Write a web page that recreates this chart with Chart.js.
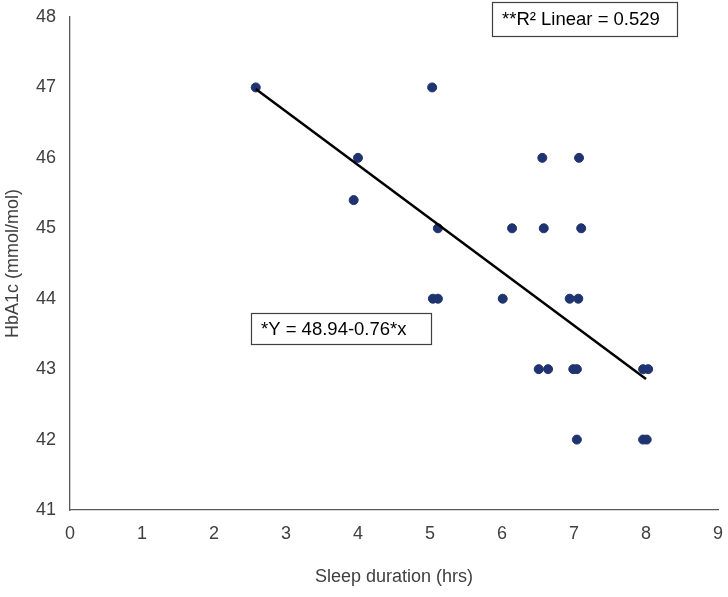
<!DOCTYPE html>
<html>
<head>
<meta charset="utf-8">
<script src="https://cdn.jsdelivr.net/npm/chart.js@4.4.1/dist/chart.umd.min.js"></script>
<style>
  html, body { margin: 0; padding: 0; background: #fff; }
  #wrap { width: 728px; height: 597px; }
</style>
</head>
<body>
<div id="wrap"><canvas id="chart" width="728" height="597"></canvas></div>
<script>
// sleep duration (hrs) and HbA1c (mmol/mol)
const sleepHours = [2.58, 5.03, 4.0, 6.56, 7.07, 3.94, 5.11, 6.14, 6.58, 7.1,
  5.04, 5.11, 6.01, 6.94, 7.06, 6.51, 6.64, 6.99, 7.04, 7.96, 8.03, 7.04, 7.96, 8.01];
const hba1c = [47, 47, 46, 46, 46, 45.4, 45, 45, 45, 45,
  44, 44, 44, 44, 44, 43, 43, 43, 43, 43, 43, 42, 42, 42];

// fitted line: Y = 48.94 - 0.76x, drawn over the data range
const intercept = 48.94;
const slope = -0.76;
const fitRange = [2.58, 8.0];

const xTicks = [0, 1, 2, 3, 4, 5, 6, 7, 8, 9];
const yTicks = [41, 42, 43, 44, 45, 46, 47, 48];

const eqLabel = '*Y = 48.94-0.76*x';
const r2Label = '**R\u00B2 Linear = 0.529';

const textColor = '#404040';
const axisColor = '#595959';
const font = 'Liberation Sans, Arial, sans-serif';

// text boxes drawn on top of the plot
const labelBoxes = {
  id: 'labelBoxes',
  afterDraw(chart) {
    const ctx = chart.ctx;
    const boxes = [
      { text: r2Label, x: 492, y: 2, w: 185, h: 34 },
      { text: eqLabel, x: 251, y: 313, w: 180, h: 31 }
    ];
    ctx.save();
    boxes.forEach(b => {
      ctx.fillStyle = '#fff';
      ctx.fillRect(b.x, b.y, b.w, b.h);
      ctx.strokeStyle = '#404040';
      ctx.lineWidth = 1.2;
      ctx.strokeRect(b.x + 0.5, b.y + 0.5, b.w, b.h);
      ctx.fillStyle = '#000';
      ctx.font = '18.5px ' + font;
      ctx.textBaseline = 'middle';
      ctx.fillText(b.text, b.x + 10, b.y + b.h / 2 + 1);
    });
    ctx.restore();
  }
};

const points = sleepHours.map((x, i) => ({ x: x, y: hba1c[i] }));
const fitLine = fitRange.map(x => ({ x: x, y: intercept + slope * x }));

new Chart(document.getElementById('chart'), {
  type: 'scatter',
  data: {
    datasets: [
      {
        label: 'fit',
        type: 'line',
        data: fitLine,
        borderColor: '#000',
        borderWidth: 2.5,
        pointRadius: 0,
        fill: false,
        order: 0
      },
      {
        label: 'HbA1c',
        data: points,
        backgroundColor: '#1f3370',
        borderColor: '#1f3370',
        pointRadius: 4.5,
        order: 1
      }
    ]
  },
  options: {
    responsive: false,
    animation: false,
    layout: { padding: { top: 17, right: 10, left: 0, bottom: 0 } },
    plugins: { legend: { display: false }, tooltip: { enabled: false } },
    scales: {
      x: {
        type: 'linear',
        min: 0,
        max: 9,
        afterBuildTicks: s => { s.ticks = xTicks.map(v => ({ value: v })); },
        afterFit: s => {
          s.height = 87;
          s.paddingLeft = 0;
          s.paddingRight = 0;
        },
        grid: { display: false, drawTicks: false },
        border: { color: axisColor, width: 1.3 },
        ticks: { color: textColor, font: { family: font, size: 18 }, padding: 13 },
        title: {
          display: true,
          text: 'Sleep duration (hrs)',
          color: textColor,
          font: { family: font, size: 18 },
          padding: { top: 0, bottom: 9 }
        }
      },
      y: {
        type: 'linear',
        min: 41,
        max: 48,
        afterBuildTicks: s => { s.ticks = yTicks.map(v => ({ value: v })); },
        afterFit: s => {
          s.width = 70;
          s.paddingTop = 0;
          s.paddingBottom = 0;
        },
        grid: { display: false, drawTicks: false },
        border: { color: axisColor, width: 1.3 },
        ticks: { color: textColor, font: { family: font, size: 18 }, padding: 14 },
        title: {
          display: true,
          text: 'HbA1c (mmol/mol)',
          color: textColor,
          font: { family: font, size: 18 },
          padding: { top: 2, bottom: 0 }
        }
      }
    }
  },
  plugins: [labelBoxes]
});
</script>
</body>
</html>
